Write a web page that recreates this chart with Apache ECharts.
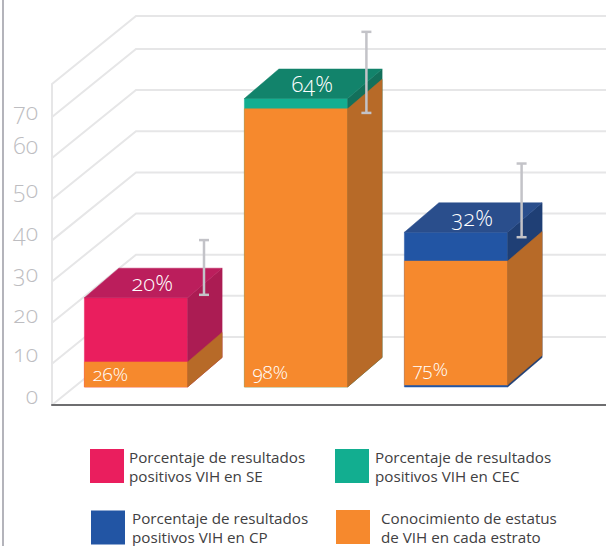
<!DOCTYPE html>
<html>
<head>
<meta charset="utf-8">
<title>chart</title>
<style>
  html, body { margin: 0; padding: 0; background: #fff; }
  #chart { width: 606px; height: 546px; }
  /* cifras antiguas como en el original */
  #chart svg text { font-feature-settings: "onum" 1; }
</style>
<script src="https://cdn.jsdelivr.net/npm/echarts@6/dist/echarts.min.js"></script>
</head>
<body>
<div id="chart"></div>
<script>
// datos
const categories = ['SE', 'CEC', 'CP']
const barX = [1, 2, 3]
const conocimiento = [6.1, 67.6, 30.6]
const conocimientoStart = [0, 0, 0.5]
const positivos = [15.6, 2.5, 7.0]
const conocimientoLabels = ['26%', '98%', '75%']
const positivosLabels = ['20%', '64%', '32%']
const errorX = [1.425, 2.44, 3.41]
const errorLow = [22.4, 66.6, 36.4]
const errorHigh = [35.7, 86.3, 54.3]
const yTicks = [0, 10, 20, 30, 40, 50, 60, 70]
const wallLines = [0, 10, 20, 30, 40, 50, 60, 70, 78]
const legendNames = {
  SE: 'Porcentaje de resultados\npositivos VIH en SE',
  CEC: 'Porcentaje de resultados\npositivos VIH en CEC',
  CP: 'Porcentaje de resultados\npositivos VIH en CP',
  conocimiento: 'Conocimiento de estatus\nde VIH en cada estrato'
}

const fontFamily = '"Open Sans", sans-serif'
const xMin = 0.475
const xMax = 3.9375
const wallDepth = [84, -68]
const barDepth = [34.5, -29.5]
const floorShift = 18 // las barras estan separadas del frente del piso
const barWidthRatio = 0.645
// en el original las etiquetas del eje no caen justo sobre su linea
const labelShift = { 0: 10, 10: 11, 20: 9, 30: 9, 40: 8, 50: 10, 60: 13, 70: 6 }

const chart = echarts.init(document.getElementById('chart'), null, { renderer: 'svg' })

function barBox (api, x, from, to) {
  const p0 = api.coord([x, from])
  const p1 = api.coord([x, to])
  const w = api.size([1, 0])[0] * barWidthRatio
  return { left: p0[0] - w / 2, right: p0[0] + w / 2, bottom: p0[1] - floorShift, top: p1[1] - floorShift, w }
}

function face (points, fill) {
  return { type: 'polygon', shape: { points }, style: { fill, stroke: fill, lineWidth: 0.5 } }
}

function sideFace (b, fill) {
  const [dx, dy] = barDepth
  return face([[b.right, b.bottom], [b.right + dx, b.bottom + dy], [b.right + dx, b.top + dy], [b.right, b.top]], fill)
}

function frontFace (b, fill) {
  return face([[b.left, b.bottom], [b.right, b.bottom], [b.right, b.top], [b.left, b.top]], fill)
}

function topFace (b, fill) {
  const [dx, dy] = barDepth
  return face([[b.left, b.top], [b.right, b.top], [b.right + dx, b.top + dy], [b.left + dx, b.top + dy]], fill)
}

function renderWall (params, api) {
  const v = api.value(0)
  const start = api.coord([xMin, v])
  const end = api.coord([xMax, v])
  const back = [start[0] + wallDepth[0], start[1] + wallDepth[1]]
  return {
    type: 'polyline',
    shape: { points: [start, back, [end[0], back[1]]] },
    style: { stroke: '#e6e6e7', lineWidth: 2, fill: 'none' },
    silent: true
  }
}

function positivoSeries (key, colors) {
  const i = categories.indexOf(key)
  return {
    name: legendNames[key],
    type: 'custom',
    z: 3,
    itemStyle: { color: colors.front },
    data: [[barX[i], conocimiento[i] + positivos[i], positivosLabels[i]]],
    renderItem (params, api) {
      const b = barBox(api, api.value(0), 0, api.value(1))
      const [dx, dy] = barDepth
      return {
        type: 'group',
        children: [
          frontFace(b, colors.front),
          sideFace(b, colors.side),
          topFace(b, colors.top),
          {
            type: 'text',
            style: {
              text: positivosLabels[i],
              x: (b.left + b.right + dx) / 2 - 1,
              y: b.top + dy / 2 - 1,
              fill: '#fff',
              fontSize: 22,
              fontWeight: 300,
              fontFamily,
              align: 'center',
              verticalAlign: 'middle'
            }
          }
        ]
      }
    }
  }
}

function legendAt (name, left, top, padTop, padLeft) {
  return {
    data: [{ name, icon: 'rect' }],
    left,
    top,
    padding: 0,
    itemWidth: 34,
    itemHeight: 34,
    selectedMode: false,
    textStyle: {
      color: '#414042',
      fontSize: 15.2,
      lineHeight: 19,
      fontFamily,
      padding: [padTop, 0, 0, padLeft]
    }
  }
}

const labelRich = {}
yTicks.forEach(v => {
  labelRich['v' + v] = { lineHeight: labelShift[v] * 2 }
})

chart.setOption({
  animation: false,
  backgroundColor: '#fff',
  grid: { left: 52, right: 0, top: 84, bottom: 141 },
  xAxis: {
    type: 'value',
    min: xMin,
    max: xMax,
    axisLine: { show: true, onZero: false, lineStyle: { color: '#6e6e70', width: 2 } },
    axisTick: { show: false },
    axisLabel: { show: false },
    splitLine: { show: false },
    z: 2
  },
  yAxis: {
    type: 'value',
    min: 0,
    max: 78,
    interval: 10,
    axisLine: { show: true, lineStyle: { color: '#e6e6e7', width: 2 } },
    axisTick: { show: false },
    splitLine: { show: false },
    axisLabel: {
      customValues: yTicks,
      color: '#bdbdc1',
      fontSize: 23,
      fontWeight: 300,
      fontFamily,
      margin: 14,
      verticalAlign: 'bottom',
      formatter: v => '{v' + v + '|' + v + '}',
      rich: labelRich
    }
  },
  legend: [
    legendAt(legendNames.SE, 90, 441.5, 11, 0),
    legendAt(legendNames.CEC, 335, 441.5, 11, 1),
    legendAt(legendNames.CP, 91, 508.5, 0, 2),
    legendAt(legendNames.conocimiento, 336, 508, 0, 6)
  ],
  graphic: [{
    type: 'rect',
    silent: true,
    shape: { x: 2, y: 0, width: 2, height: 546 },
    style: { fill: '#b4b4bb' }
  }],
  series: [
    {
      name: 'pared',
      type: 'custom',
      z: 1,
      data: wallLines.map(v => [v]),
      encode: { y: 0 },
      renderItem: renderWall
    },
    positivoSeries('SE', { front: '#ea1e5e', side: '#ab1c53', top: '#bb1e5c' }),
    positivoSeries('CEC', { front: '#12ae90', side: '#13705b', top: '#12836b' }),
    positivoSeries('CP', { front: '#2255a4', side: '#1f3f75', top: '#2a4e8c' }),
    {
      name: legendNames.conocimiento,
      type: 'custom',
      z: 4,
      itemStyle: { color: '#f6892d' },
      data: barX.map((x, i) => [x, conocimientoStart[i], conocimiento[i], conocimientoLabels[i]]),
      renderItem (params, api) {
        const b = barBox(api, api.value(0), api.value(1), api.value(2))
        return {
          type: 'group',
          children: [
            frontFace(b, '#f6892d'),
            sideFace(b, '#b76a28'),
            {
              type: 'text',
              style: {
                text: conocimientoLabels[params.dataIndex],
                x: b.left + 8,
                y: b.bottom - Math.min(15.5, (b.bottom - b.top) / 2),
                fill: '#fff',
                fontSize: 19,
                fontWeight: 300,
                fontFamily,
                align: 'left',
                verticalAlign: 'middle'
              }
            }
          ]
        }
      }
    },
    {
      name: 'error',
      type: 'custom',
      z: 5,
      data: errorX.map((x, i) => [x, errorLow[i], errorHigh[i]]),
      renderItem (params, api) {
        const low = api.coord([api.value(0), api.value(1)])
        const high = api.coord([api.value(0), api.value(2)])
        const x = low[0]
        const yLow = low[1] - floorShift
        const yHigh = high[1] - floorShift
        const style = { stroke: '#c3c3c8', lineWidth: 2.5, fill: 'none' }
        return {
          type: 'group',
          children: [
            { type: 'line', shape: { x1: x, y1: yLow, x2: x, y2: yHigh }, style },
            { type: 'line', shape: { x1: x - 5, y1: yLow, x2: x + 5, y2: yLow }, style },
            { type: 'line', shape: { x1: x - 5, y1: yHigh, x2: x + 5, y2: yHigh }, style }
          ]
        }
      }
    }
  ]
})
</script>
</body>
</html>
